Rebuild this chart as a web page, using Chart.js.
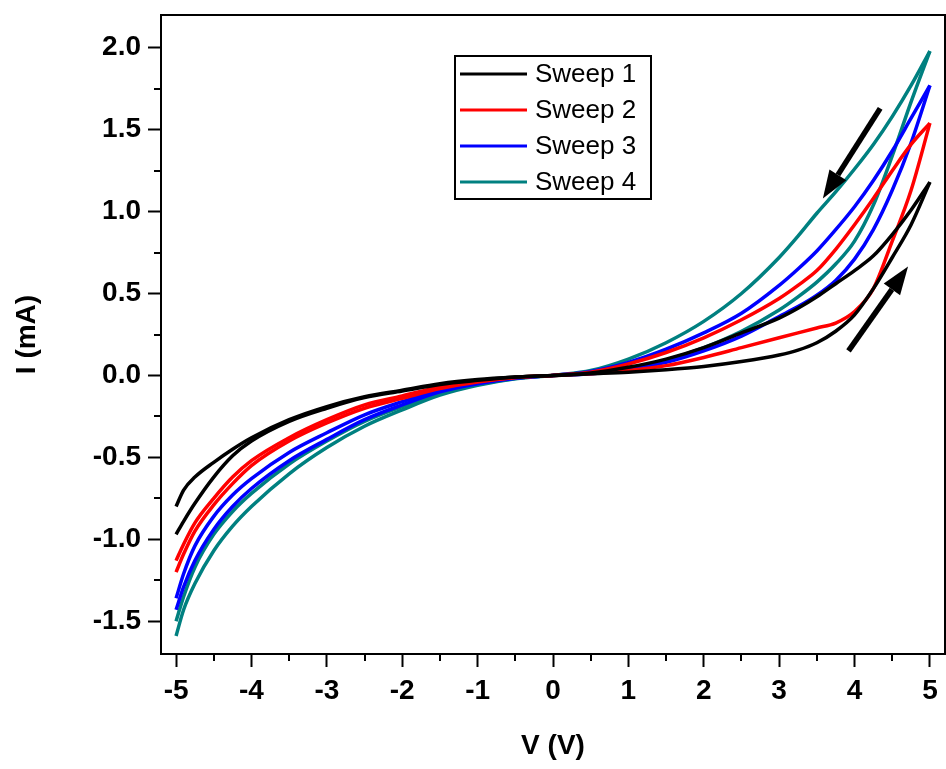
<!DOCTYPE html>
<html>
<head>
<meta charset="utf-8">
<script src="https://cdn.jsdelivr.net/npm/chart.js@4.4.1/dist/chart.umd.min.js"></script>
<style>
  html, body { margin: 0; padding: 0; background: #fff; }
  #wrap { width: 946px; height: 769px; }
</style>
</head>
<body>
<div id="wrap"><canvas id="grafico" width="946" height="769"></canvas></div>
<script>
// voltages (V)
const vPos = [0, 0.5, 1, 1.5, 2, 2.5, 3, 3.25, 3.5, 3.75, 4, 4.25, 4.5, 4.75, 5];
const vNeg = [0, -0.5, -1, -1.5, -2, -2.5, -3, -3.5, -4, -4.25, -4.5, -4.75, -4.9, -5];

// currents (mA) - positive side, forward (0 -> 5) and return (5 -> 0)
const s1Fwd = [0, 0.01, 0.02, 0.035, 0.055, 0.085, 0.125, 0.155, 0.20, 0.27, 0.37, 0.53, 0.72, 0.92, 1.18];
const s1Ret = [0, 0.015, 0.05, 0.10, 0.17, 0.26, 0.35, 0.41, 0.48, 0.56, 0.64, 0.73, 0.86, 1.01, 1.18];
const s2Fwd = [0, 0.01, 0.03, 0.06, 0.11, 0.17, 0.23, 0.26, 0.29, 0.32, 0.39, 0.53, 0.82, 1.13, 1.54];
const s2Ret = [0, 0.02, 0.07, 0.14, 0.23, 0.34, 0.47, 0.55, 0.64, 0.77, 0.92, 1.08, 1.25, 1.41, 1.54];
const s3Fwd = [0, 0.01, 0.04, 0.08, 0.15, 0.24, 0.36, 0.42, 0.49, 0.58, 0.71, 0.89, 1.13, 1.42, 1.77];
const s3Ret = [0, 0.025, 0.08, 0.16, 0.26, 0.38, 0.55, 0.65, 0.76, 0.89, 1.03, 1.19, 1.37, 1.57, 1.77];
const s4Fwd = [0, 0.012, 0.045, 0.095, 0.17, 0.27, 0.40, 0.48, 0.57, 0.68, 0.82, 1.04, 1.34, 1.67, 1.98];
const s4Ret = [0, 0.03, 0.10, 0.20, 0.33, 0.50, 0.72, 0.85, 0.99, 1.12, 1.26, 1.41, 1.58, 1.77, 1.98];

// currents (mA) - negative side, out (0 -> -5) and back (-5 -> 0)
const s1Out  = [0, -0.01, -0.025, -0.05, -0.09, -0.13, -0.19, -0.27, -0.38, -0.45, -0.53, -0.62, -0.70, -0.80];
const s1Back = [0, -0.01, -0.03, -0.055, -0.095, -0.135, -0.20, -0.28, -0.40, -0.49, -0.62, -0.78, -0.89, -0.97];
const s2Out  = [0, -0.012, -0.035, -0.07, -0.125, -0.18, -0.27, -0.38, -0.52, -0.62, -0.75, -0.90, -1.03, -1.13];
const s2Back = [0, -0.013, -0.04, -0.08, -0.14, -0.20, -0.29, -0.40, -0.55, -0.66, -0.79, -0.95, -1.09, -1.20];
const s3Out  = [0, -0.015, -0.045, -0.09, -0.16, -0.24, -0.35, -0.47, -0.63, -0.73, -0.86, -1.04, -1.21, -1.36];
const s3Back = [0, -0.017, -0.05, -0.10, -0.18, -0.27, -0.39, -0.52, -0.69, -0.80, -0.94, -1.13, -1.29, -1.43];
const s4Out  = [0, -0.018, -0.055, -0.11, -0.19, -0.28, -0.40, -0.54, -0.72, -0.83, -0.97, -1.17, -1.35, -1.50];
const s4Back = [0, -0.02, -0.06, -0.12, -0.21, -0.31, -0.44, -0.60, -0.80, -0.92, -1.07, -1.27, -1.43, -1.59];

const sweepNames = ["Sweep 1", "Sweep 2", "Sweep 3", "Sweep 4"];
const sweepColors = ["#000000", "#ff0000", "#0000ff", "#008080"];

// axis ticks
const xTicks = [-5, -4, -3, -2, -1, 0, 1, 2, 3, 4, 5];
const xMinor = [-4.5, -3.5, -2.5, -1.5, -0.5, 0.5, 1.5, 2.5, 3.5, 4.5];
const yTicks = [-1.5, -1.0, -0.5, 0.0, 0.5, 1.0, 1.5, 2.0];
const yMinor = [-1.25, -0.75, -0.25, 0.25, 0.75, 1.25, 1.75];

// arrows [V start, I start, V tip, I tip]
const arrows = [
  [4.34, 1.63, 3.58, 1.08],
  [3.92, 0.15, 4.71, 0.665]
];

const branches = [
  [s1Fwd, s1Ret, s1Out, s1Back],
  [s2Fwd, s2Ret, s2Out, s2Back],
  [s3Fwd, s3Ret, s3Out, s3Back],
  [s4Fwd, s4Ret, s4Out, s4Back]
];

const pts = (vs, is) => vs.map((v, k) => ({ x: v, y: is[k] }));

let datasets = [];
branches.forEach((b, i) => {
  const parts = [pts(vPos, b[0]), pts(vPos, b[1]), pts(vNeg, b[2]), pts(vNeg, b[3])];
  parts.forEach((p, j) => {
    datasets.push({
      label: j === 0 ? sweepNames[i] : "",
      data: p,
      showLine: true,
      borderColor: sweepColors[i],
      backgroundColor: sweepColors[i],
      borderWidth: 3.5,
      pointRadius: 0,
      cubicInterpolationMode: "monotone"
    });
  });
});

const FONT = "'Liberation Sans', Arial, sans-serif";

const deco = {
  id: "deco",
  afterDraw(chart) {
    const { ctx, chartArea: a, scales: { x, y } } = chart;
    ctx.save();
    ctx.strokeStyle = "#000";
    ctx.lineWidth = 2;
    ctx.strokeRect(a.left, a.top, a.right - a.left, a.bottom - a.top);

    // minor ticks
    ctx.beginPath();
    xMinor.forEach(v => {
      const px = Math.round(x.getPixelForValue(v));
      ctx.moveTo(px, a.bottom); ctx.lineTo(px, a.bottom + 7);
    });
    yMinor.forEach(v => {
      const py = Math.round(y.getPixelForValue(v));
      ctx.moveTo(a.left, py); ctx.lineTo(a.left - 7, py);
    });
    ctx.stroke();

    // arrows
    ctx.fillStyle = "#000";
    arrows.forEach(ar => {
      const x0 = x.getPixelForValue(ar[0]), y0 = y.getPixelForValue(ar[1]);
      const x1 = x.getPixelForValue(ar[2]), y1 = y.getPixelForValue(ar[3]);
      const ang = Math.atan2(y1 - y0, x1 - x0);
      const hl = 28, hw = 10;
      const bx = x1 - hl * Math.cos(ang), by = y1 - hl * Math.sin(ang);
      ctx.lineWidth = 5.5;
      ctx.beginPath();
      ctx.moveTo(x0, y0); ctx.lineTo(bx, by);
      ctx.stroke();
      ctx.beginPath();
      ctx.moveTo(x1, y1);
      ctx.lineTo(bx + hw * Math.sin(ang), by - hw * Math.cos(ang));
      ctx.lineTo(bx - hw * Math.sin(ang), by + hw * Math.cos(ang));
      ctx.closePath();
      ctx.fill();
    });

    // legend box
    ctx.lineWidth = 2;
    ctx.strokeRect(455, 56, 196, 143);
    ctx.font = "26px " + FONT;
    ctx.textBaseline = "middle";
    sweepNames.forEach((n, i) => {
      const ly = 74 + i * 36;
      ctx.strokeStyle = sweepColors[i];
      ctx.lineWidth = 3;
      ctx.beginPath();
      ctx.moveTo(460, ly); ctx.lineTo(527, ly);
      ctx.stroke();
      ctx.fillStyle = "#000";
      ctx.fillText(n, 535, ly + 1);
    });
    ctx.restore();
  }
};

new Chart(document.getElementById("grafico"), {
  type: "scatter",
  data: { datasets: datasets },
  options: {
    responsive: false,
    animation: false,
    layout: { padding: { top: 15, right: 1, left: 0, bottom: 0 } },
    plugins: { legend: { display: false }, tooltip: { enabled: false } },
    scales: {
      x: {
        type: "linear",
        min: -5.2,
        max: 5.2,
        afterBuildTicks: s => { s.ticks = xTicks.map(v => ({ value: v })); },
        afterFit: s => { s.height = 115; s.paddingLeft = 0; s.paddingRight = 0; },
        grid: { drawOnChartArea: false, drawTicks: true, tickLength: 13, tickWidth: 2, tickColor: "#000" },
        border: { display: true, color: "#000", width: 2 },
        ticks: {
          color: "#000",
          font: { family: FONT, size: 28, weight: "bold" },
          padding: 7,
          maxRotation: 0,
          autoSkip: false,
          callback: v => String(v)
        },
        title: {
          display: true,
          text: "V (V)",
          color: "#000",
          font: { family: FONT, size: 28, weight: "bold" },
          padding: { top: 0, bottom: 6 }
        }
      },
      y: {
        type: "linear",
        min: -1.7,
        max: 2.2,
        afterBuildTicks: s => { s.ticks = yTicks.map(v => ({ value: v })); },
        afterFit: s => { s.width = 161; s.paddingTop = 0; s.paddingBottom = 0; },
        grid: { drawOnChartArea: false, drawTicks: true, tickLength: 13, tickWidth: 2, tickColor: "#000" },
        border: { display: true, color: "#000", width: 2 },
        ticks: {
          color: "#000",
          font: { family: FONT, size: 28, weight: "bold" },
          padding: 7,
          autoSkip: false,
          callback: v => v.toFixed(1)
        },
        title: {
          display: true,
          text: "I (mA)",
          color: "#000",
          font: { family: FONT, size: 28, weight: "bold" },
          padding: { top: 10, bottom: 0 }
        }
      }
    }
  },
  plugins: [deco]
});
</script>
</body>
</html>
